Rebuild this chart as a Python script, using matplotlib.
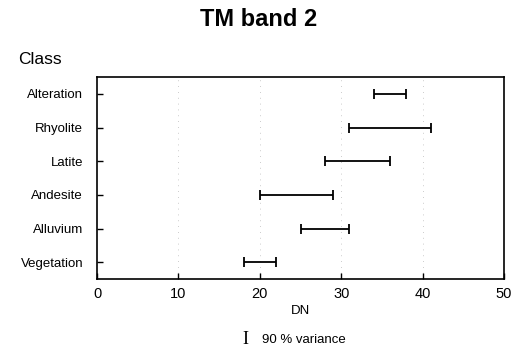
import matplotlib
matplotlib.use("Agg")
import matplotlib.pyplot as plt

classes = ["Vegetation", "Alluvium", "Andesite", "Latite", "Rhyolite", "Alteration"]
low = [18, 25, 20, 28, 31, 34]
high = [22, 31, 29, 36, 41, 38]
xticks = [0, 10, 20, 30, 40, 50]

plt.rcParams['font.family'] = ['Liberation Sans', 'DejaVu Sans']

fig = plt.figure(figsize=(5.12, 3.5), dpi=100)
ax = fig.add_axes([97/512, 1-279/350, (504-97)/512, (279-77)/350])

ypos = list(range(len(classes)))
for y, lo, hi in zip(ypos, low, high):
    mid = (lo + hi) / 2
    ax.errorbar(mid, y, xerr=(hi - lo) / 2, fmt='none', ecolor='black',
                elinewidth=1.3, capsize=3.5, capthick=1.3)

for gx in [10, 20, 30, 40]:
    ax.axvline(gx, color='#bbbbbb', lw=0.6, ls=(0, (1, 6)), zorder=0)

ax.set_xlim(0, 50)
ax.set_ylim(-0.5, len(classes) - 0.5)
ax.set_xticks(xticks)
ax.set_xticklabels([str(t) for t in xticks], fontsize=10.5)
ax.set_yticks(ypos)
ax.set_yticklabels(classes, fontsize=9.5)
ax.tick_params(axis='both', direction='in', length=4, width=1)
ax.tick_params(axis='x', pad=6)
ax.tick_params(axis='y', pad=10)
for s in ax.spines.values():
    s.set_linewidth(1.2)

fig.text(301/512, 1-311/350, "DN", ha='center', va='center', fontsize=9.5)
fig.text(259/512, 1-20/350, "TM band 2", ha='center', va='center', fontsize=17, fontweight='bold')
fig.text(18/512, 1-59/350, "Class", ha='left', va='center', fontsize=12.5)
fig.text(245/512, 1-339/350, "I", ha='center', va='center', fontsize=13, family='Liberation Serif')
fig.text(262/512, 1-340/350, "90 % variance", ha='left', va='center', fontsize=9.5)

fig.savefig("out.png", dpi=100)
